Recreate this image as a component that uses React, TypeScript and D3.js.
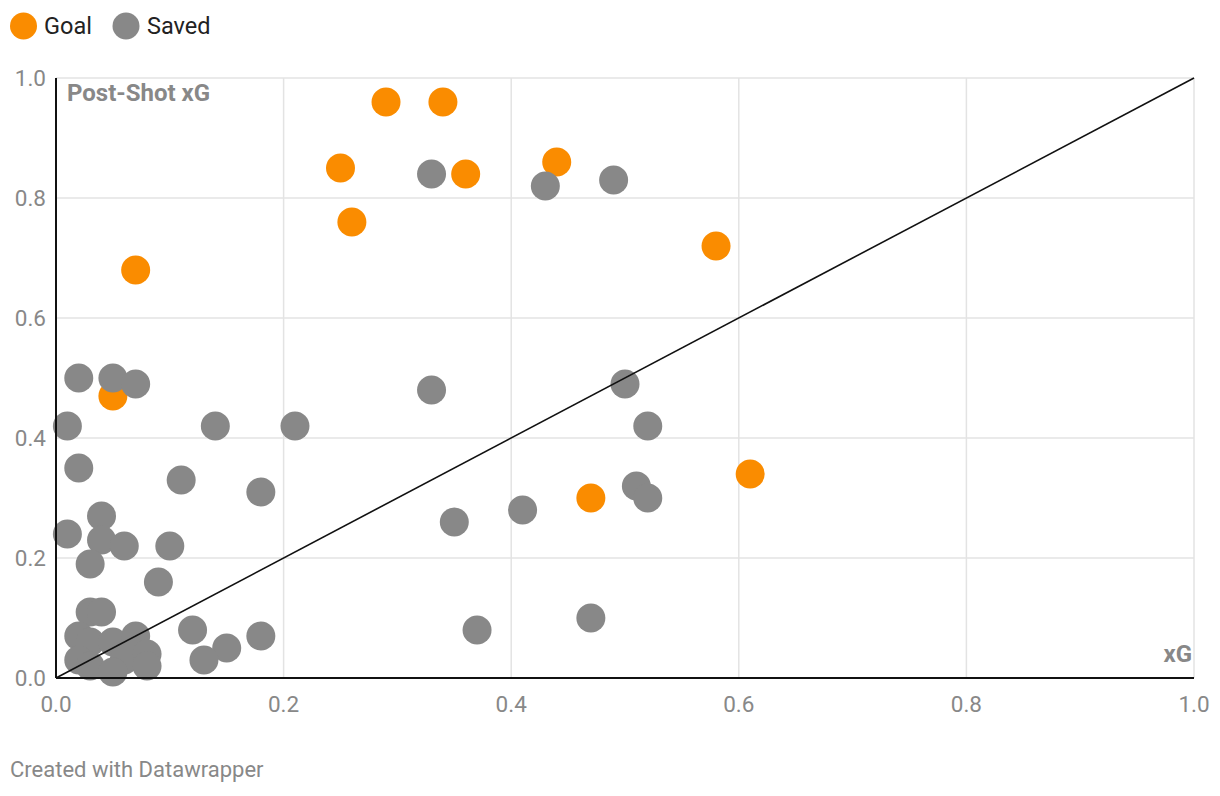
import React from "react";
import * as d3 from "d3";

const goalX = [0.29, 0.34, 0.25, 0.36, 0.44, 0.26, 0.07, 0.58, 0.05, 0.47, 0.61];
const goalY = [0.96, 0.96, 0.85, 0.84, 0.86, 0.76, 0.68, 0.72, 0.47, 0.3, 0.34];

const savedX = [
  0.33, 0.43, 0.49, 0.02, 0.05, 0.07, 0.33, 0.5, 0.01, 0.14, 0.21, 0.52, 0.02, 0.11, 0.18,
  0.51, 0.52, 0.04, 0.35, 0.41, 0.01, 0.04, 0.06, 0.1, 0.03, 0.09, 0.03, 0.04, 0.47, 0.37,
  0.12, 0.18, 0.15, 0.13, 0.02, 0.03, 0.05, 0.07, 0.02, 0.03, 0.06, 0.05, 0.08, 0.08,
];
const savedY = [
  0.84, 0.82, 0.83, 0.5, 0.5, 0.49, 0.48, 0.49, 0.42, 0.42, 0.42, 0.42, 0.35, 0.33, 0.31,
  0.32, 0.3, 0.27, 0.26, 0.28, 0.24, 0.23, 0.22, 0.22, 0.19, 0.16, 0.11, 0.11, 0.1, 0.08,
  0.08, 0.07, 0.05, 0.03, 0.07, 0.06, 0.06, 0.07, 0.03, 0.02, 0.03, 0.01, 0.04, 0.02,
];

const xTicks = [0, 0.2, 0.4, 0.6, 0.8, 1.0];
const yTicks = [0, 0.2, 0.4, 0.6, 0.8, 1.0];
const legendLabels = ["Goal", "Saved"];

const W = 1220;
const H = 796;
const ORANGE = "#fa8c00";
const GRAY = "#888888";
const FONT = "Roboto, 'Noto Sans', sans-serif";

export default function App() {
  const x = d3.scaleLinear().domain([0, 1]).range([56, 1194]);
  const y = d3.scaleLinear().domain([0, 1]).range([678, 78]);
  const r = 14.5;
  const fmt = d3.format(".1f");
  const diag = d3.line<number>().x((d) => x(d)).y((d) => y(d))([0, 1]) || "";

  return (
    <svg width={W} height={H} style={{ position: "absolute", left: 0, top: 0, background: "#fff" }} fontFamily={FONT}>
      {/* legend */}
      <g>
        <circle cx={23.5} cy={26} r={13.5} fill={ORANGE} />
        <text x={44} y={34} fontSize={23.5} fill="#222">{legendLabels[0]}</text>
        <circle cx={126} cy={26} r={13.5} fill={GRAY} />
        <text x={147} y={34} fontSize={23.5} fill="#222">{legendLabels[1]}</text>
      </g>
      {/* grid */}
      {xTicks.map((t) => (
        <line key={"gx" + t} x1={x(t)} x2={x(t)} y1={y(1)} y2={y(0)} stroke="#e3e3e3" strokeWidth={1.5} />
      ))}
      {yTicks.map((t) => (
        <line key={"gy" + t} x1={x(0)} x2={x(1)} y1={y(t)} y2={y(t)} stroke="#e3e3e3" strokeWidth={1.5} />
      ))}
      {/* tick labels */}
      {yTicks.map((t) => (
        <text key={"ty" + t} x={46} y={y(t) + 7.5} fontSize={22.5} fill="#888" textAnchor="end">{fmt(t)}</text>
      ))}
      {xTicks.map((t) => (
        <text key={"tx" + t} x={x(t)} y={712} fontSize={22.5} fill="#888" textAnchor="middle">{fmt(t)}</text>
      ))}
      {/* axis titles */}
      <text x={67} y={101} fontSize={24} fontWeight="bold" fill="#888">Post-Shot xG</text>
      <text x={1192} y={662} fontSize={24} fontWeight="bold" fill="#888" textAnchor="end">xG</text>
      {/* points */}
      {goalX.map((v, i) => (
        <circle key={"g" + i} cx={x(v)} cy={y(goalY[i])} r={r} fill={ORANGE} />
      ))}
      {savedX.map((v, i) => (
        <circle key={"s" + i} cx={x(v)} cy={y(savedY[i])} r={r} fill={GRAY} />
      ))}
      {/* axes */}
      <line x1={x(0)} x2={x(0)} y1={y(1)} y2={y(0)} stroke="#111" strokeWidth={2} />
      <line x1={x(0)} x2={x(1)} y1={y(0)} y2={y(0)} stroke="#111" strokeWidth={2} />
      <path d={diag} stroke="#111" strokeWidth={1.6} fill="none" />
      {/* footer */}
      <text x={10} y={777} fontSize={22} fill="#888">Created with Datawrapper</text>
    </svg>
  );
}
